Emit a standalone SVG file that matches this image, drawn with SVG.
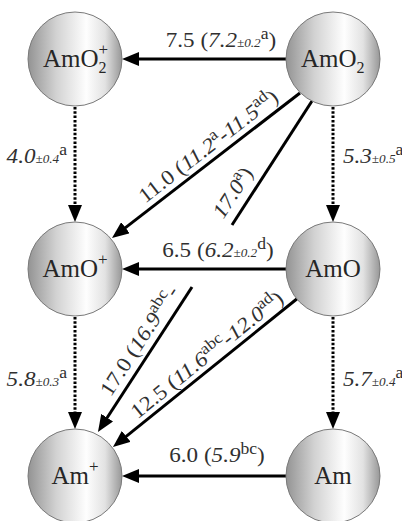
<svg xmlns="http://www.w3.org/2000/svg" width="402" height="521" viewBox="0 0 402 521">
<defs>
<linearGradient id="g" x1="0" y1="0" x2="1" y2="0">
<stop offset="0" stop-color="#939393"/>
<stop offset="0.3" stop-color="#d2d2d2"/>
<stop offset="0.62" stop-color="#fefefe"/>
<stop offset="0.82" stop-color="#e2e2e2"/>
<stop offset="1" stop-color="#979797"/>
</linearGradient>
<marker id="ah" viewBox="0 0 17 14" refX="4" refY="7" markerWidth="17" markerHeight="14" markerUnits="userSpaceOnUse" orient="auto">
<path d="M0,0 L17,7 L0,14 z" fill="#000"/>
</marker>
<style>
.n{fill:url(#g);stroke:#7a7a7a;stroke-width:1}
.nt{font-family:'Liberation Serif',serif;font-size:25px;fill:#262626}
.e{stroke:#000;stroke-width:3;fill:none}
.a{marker-end:url(#ah)}
.d{stroke-dasharray:2.5 1.8}
.lb{font-family:'Liberation Serif',serif;font-size:21px;fill:#303030}
.it{font-style:italic}
.sm{font-size:12px;font-style:italic}
.sp{font-size:16px;font-style:normal}
</style>
</defs>

<g id="connectors">
<line class="e a" x1="286" y1="59" x2="135" y2="59"/>
<line class="e a" x1="286" y1="269" x2="135" y2="269"/>
<line class="e a" x1="286" y1="476" x2="135" y2="476"/>
<line class="e a d" x1="75" y1="107" x2="75" y2="209"/>
<line class="e a d" x1="333" y1="107" x2="333" y2="209"/>
<line class="e a d" x1="75" y1="317" x2="75" y2="416"/>
<line class="e a d" x1="333" y1="317" x2="333" y2="416"/>
<line class="e a" x1="300" y1="93" x2="122.3" y2="230.1"/>
<line class="e" x1="312" y1="101" x2="232" y2="225"/>
<line class="e a" x1="192" y1="287" x2="105" y2="421"/>
<line class="e a" x1="298" y1="298" x2="123.1" y2="438.9"/>

<g transform="translate(221,47) scale(1.1,1)"><text class="lb" x="0" y="0" text-anchor="middle">7.5 (<tspan class="it">7.2</tspan><tspan class="sm">±0.2</tspan><tspan class="sp" dy="-8">a</tspan><tspan dy="8">)</tspan></text></g>
<g transform="translate(218,257) scale(1.1,1)"><text class="lb" x="0" y="0" text-anchor="middle">6.5 (<tspan class="it">6.2</tspan><tspan class="sm">±0.2</tspan><tspan class="sp" dy="-8">d</tspan><tspan dy="8">)</tspan></text></g>
<g transform="translate(217,462) scale(1.1,1)"><text class="lb" x="0" y="0" text-anchor="middle">6.0 (<tspan class="it">5.9</tspan><tspan class="sp" dy="-8">bc</tspan><tspan dy="8">)</tspan></text></g>

<g transform="translate(67,163) scale(1.1,1)"><text class="lb" x="0" y="0" text-anchor="end"><tspan class="it">4.0</tspan><tspan class="sm">±0.4</tspan><tspan class="sp" dy="-8">a</tspan></text></g>
<g transform="translate(343,163) scale(1.1,1)"><text class="lb" x="0" y="0"><tspan class="it">5.3</tspan><tspan class="sm">±0.5</tspan><tspan class="sp" dy="-8">a</tspan></text></g>
<g transform="translate(67,386) scale(1.1,1)"><text class="lb" x="0" y="0" text-anchor="end"><tspan class="it">5.8</tspan><tspan class="sm">±0.3</tspan><tspan class="sp" dy="-8">a</tspan></text></g>
<g transform="translate(343,386) scale(1.1,1)"><text class="lb" x="0" y="0"><tspan class="it">5.7</tspan><tspan class="sm">±0.4</tspan><tspan class="sp" dy="-8">a</tspan></text></g>

<g transform="translate(216.8,157.2) rotate(-37.65) scale(1.1,1)"><text class="lb" x="0" y="-7" text-anchor="middle">11.0 (<tspan class="it">11.2</tspan><tspan class="sp" dy="-8">a</tspan><tspan dy="8">-</tspan><tspan class="it">11.5</tspan><tspan class="sp" dy="-8">ad</tspan><tspan dy="8">)</tspan></text></g>
<g transform="translate(246.8,201.8) rotate(-57.1) scale(1.1,1)"><text class="lb" x="0" y="-10" text-anchor="middle"><tspan class="it">17.0</tspan><tspan class="sp" dy="-8">a</tspan><tspan dy="8">)</tspan></text></g>
<g transform="translate(151.8,348.8) rotate(-57.1) scale(1.1,1)"><text class="lb" x="0" y="-8" text-anchor="middle">17.0 (<tspan class="it">16.9</tspan><tspan class="sp" dy="-8">abc</tspan><tspan dy="8">-</tspan></text></g>
<g transform="translate(215,364.8) rotate(-38.8) scale(1.1,1)"><text class="lb" x="0" y="-6" text-anchor="middle">12.5 (<tspan class="it">11.6</tspan><tspan class="sp" dy="-8">abc</tspan><tspan dy="8">-</tspan><tspan class="it">12.0</tspan><tspan class="sp" dy="-8">ad</tspan><tspan dy="8">)</tspan></text></g>
</g>

<g id="n-amo2p"><circle class="n" cx="75" cy="59" r="47"/><text class="nt" x="43" y="67">AmO<tspan x="98.5" y="73" font-size="16">2</tspan><tspan x="98.5" y="55" font-size="17">+</tspan></text></g>
<g id="n-amo2"><circle class="n" cx="333" cy="59" r="47"/><text class="nt" x="301" y="67">AmO<tspan x="356.5" y="73" font-size="16">2</tspan></text></g>
<g id="n-amop"><circle class="n" cx="75" cy="269" r="47"/><text class="nt" x="42.5" y="277">AmO<tspan x="98" y="265" font-size="17">+</tspan></text></g>
<g id="n-amo"><circle class="n" cx="333" cy="269" r="47"/><text class="nt" x="305.2" y="277">AmO</text></g>
<g id="n-amp"><circle class="n" cx="75" cy="476" r="47"/><text class="nt" x="51.5" y="484">Am<tspan x="89" y="472" font-size="17">+</tspan></text></g>
<g id="n-am"><circle class="n" cx="333" cy="476" r="47"/><text class="nt" x="314.2" y="484">Am</text></g>
</svg>
